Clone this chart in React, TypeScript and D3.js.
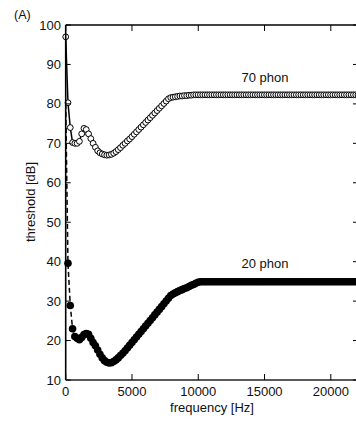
import React from "react";
import * as d3 from "d3";

const frequencies = [
  0, 172, 345, 517, 689, 861, 1034, 1206, 1378, 1550,
  1723, 1895, 2067, 2240, 2412, 2584, 2756, 2929, 3101, 3273,
  3445, 3618, 3790, 3962, 4134, 4307, 4479, 4651, 4823, 4996,
  5168, 5340, 5512, 5685, 5857, 6029, 6202, 6374, 6546, 6718,
  6891, 7063, 7235, 7407, 7580, 7752, 7924, 8097, 8269, 8441,
  8613, 8786, 8958, 9130, 9303, 9475, 9647, 9819, 9991, 10164,
  10336, 10508, 10680, 10853, 11025, 11197, 11369, 11542, 11714, 11886,
  12058, 12231, 12403, 12575, 12747, 12920, 13092, 13264, 13436, 13609,
  13781, 13953, 14125, 14298, 14470, 14642, 14814, 14987, 15159, 15331,
  15503, 15676, 15848, 16020, 16192, 16365, 16537, 16709, 16881, 17054,
  17226, 17398, 17571, 17743, 17915, 18087, 18260, 18432, 18604, 18776,
  18949, 19121, 19293, 19465, 19638, 19810, 19982, 20154, 20327, 20499,
  20671, 20843, 21016, 21188, 21360, 21533, 21705, 21877, 22050,
];

const phon70 = [
  97.0, 80.3, 74.0, 70.2, 70.0, 70.0, 70.5, 72.4, 73.8, 73.5,
  72.4, 71.2, 70.0, 69.0, 68.1, 67.6, 67.3, 67.1, 67.0, 67.05,
  67.2, 67.5, 67.9, 68.4, 68.9, 69.5, 70.0, 70.6, 71.1, 71.7,
  72.3, 72.9, 73.5, 74.1, 74.7, 75.3, 75.9, 76.5, 77.1, 77.7,
  78.3, 78.9, 79.5, 80.1, 80.7, 81.3, 81.6, 81.7, 81.8, 81.9,
  82.0, 82.0, 82.1, 82.1, 82.2, 82.2, 82.3, 82.3, 82.3, 82.3,
  82.3, 82.3, 82.3, 82.3, 82.3, 82.3, 82.3, 82.3, 82.3, 82.3,
  82.3, 82.3, 82.3, 82.3, 82.3, 82.3, 82.3, 82.3, 82.3, 82.3,
  82.3, 82.3, 82.3, 82.3, 82.3, 82.3, 82.3, 82.3, 82.3, 82.3,
  82.3, 82.3, 82.3, 82.3, 82.3, 82.3, 82.3, 82.3, 82.3, 82.3,
  82.3, 82.3, 82.3, 82.3, 82.3, 82.3, 82.3, 82.3, 82.3, 82.3,
  82.3, 82.3, 82.3, 82.3, 82.3, 82.3, 82.3, 82.3, 82.3, 82.3,
  82.3, 82.3, 82.3, 82.3, 82.3, 82.3, 82.3, 82.3, 82.3,
];

const phon20 = [
  80.0, 39.6, 28.9, 23.0, 21.0, 20.6, 20.2, 20.8, 21.5, 21.8,
  21.6, 20.6, 19.5, 18.7, 17.6, 16.5, 15.6, 14.9, 14.5, 14.3,
  14.4, 14.7, 15.1, 15.6, 16.2, 16.8, 17.4, 18.1, 18.8, 19.5,
  20.2, 20.9, 21.6, 22.3, 23.0, 23.7, 24.4, 25.1, 25.8, 26.5,
  27.2, 27.9, 28.6, 29.3, 30.0, 30.7, 31.4, 31.8, 32.1, 32.4,
  32.7, 32.9, 33.2, 33.4, 33.7, 34.0, 34.2, 34.5, 34.8, 34.9,
  34.9, 34.9, 34.9, 34.9, 34.9, 34.9, 34.9, 34.9, 34.9, 34.9,
  34.9, 34.9, 34.9, 34.9, 34.9, 34.9, 34.9, 34.9, 34.9, 34.9,
  34.9, 34.9, 34.9, 34.9, 34.9, 34.9, 34.9, 34.9, 34.9, 34.9,
  34.9, 34.9, 34.9, 34.9, 34.9, 34.9, 34.9, 34.9, 34.9, 34.9,
  34.9, 34.9, 34.9, 34.9, 34.9, 34.9, 34.9, 34.9, 34.9, 34.9,
  34.9, 34.9, 34.9, 34.9, 34.9, 34.9, 34.9, 34.9, 34.9, 34.9,
  34.9, 34.9, 34.9, 34.9, 34.9, 34.9, 34.9, 34.9, 34.9,
];

const xTicks = [0, 5000, 10000, 15000, 20000];
const yTicks = [10, 20, 30, 40, 50, 60, 70, 80, 90, 100];
const seriesLabels = ["70 phon", "20 phon"];
const panelLabel = "(A)";
const xTitle = "frequency [Hz]";
const yTitle = "threshold [dB]";

const W = 356;
const H = 421;
const FONT = "'Liberation Sans', Arial, sans-serif";

export default function App() {
  const x = d3.scaleLinear().domain([0, 22050]).range([65.7, 358]);
  const y = d3.scaleLinear().domain([10, 100]).range([380, 25]);

  const n = Math.min(frequencies.length, phon70.length, phon20.length);
  const d70 = d3.range(n).map((i) => [frequencies[i], phon70[i]] as [number, number]);
  const d20 = d3.range(n).map((i) => [frequencies[i], phon20[i]] as [number, number]);

  const line = d3
    .line<[number, number]>()
    .x((d) => x(d[0]))
    .y((d) => y(d[1]));

  const [x0, x1] = x.range();
  const [yb, yt] = y.range();
  const tick = 6;

  return (
    <svg
      width={W}
      height={H}
      style={{ position: "absolute", left: 0, top: 0, background: "#fff" }}
      fontFamily={FONT}
    >
      <rect x={0} y={0} width={W} height={H} fill="#fff" />

      {/* 20 phon: dashed line with filled markers */}
      <path d={line(d20) || ""} fill="none" stroke="#000" strokeWidth={1.5} strokeDasharray="5,3" />
      {d20.slice(1).map((d, i) => (
        <circle key={"b" + i} cx={x(d[0])} cy={y(d[1])} r={3.8} fill="#000" />
      ))}

      {/* 70 phon: solid line with open markers */}
      <path d={line(d70) || ""} fill="none" stroke="#000" strokeWidth={1.5} />
      {d70.map((d, i) => (
        <circle
          key={"w" + i}
          cx={x(d[0])}
          cy={y(d[1])}
          r={2.9}
          fill="#fff"
          stroke="#000"
          strokeWidth={1}
        />
      ))}

      {/* frame */}
      <line x1={x0} x2={x0} y1={yt} y2={yb} stroke="#000" strokeWidth={1.6} />
      <line x1={x0} x2={x1} y1={yt} y2={yt} stroke="#000" strokeWidth={1.3} />
      <line x1={x0} x2={x1} y1={yb} y2={yb} stroke="#222" strokeWidth={1.3} />
      <line x1={x1} x2={x1} y1={yt} y2={yb} stroke="#000" strokeWidth={1.3} />

      {/* x ticks */}
      {xTicks.map((t) => (
        <g key={"xt" + t}>
          <line x1={x(t)} x2={x(t)} y1={yb} y2={yb - tick} stroke="#000" strokeWidth={1} />
          <line x1={x(t)} x2={x(t)} y1={yt} y2={yt + tick} stroke="#000" strokeWidth={1} />
          <text x={x(t)} y={396} textAnchor="middle" fontSize={13} fill="#111">
            {String(t)}
          </text>
        </g>
      ))}

      {/* y ticks */}
      {yTicks.map((t) => (
        <g key={"yt" + t}>
          <line x1={x0} x2={x0 + 5} y1={y(t)} y2={y(t)} stroke="#000" strokeWidth={1} />
          <line x1={x1} x2={x1 - 5} y1={y(t)} y2={y(t)} stroke="#000" strokeWidth={1} />
          <text x={61} y={y(t) + 4.5} textAnchor="end" fontSize={13} fill="#111">
            {String(t)}
          </text>
        </g>
      ))}

      {/* labels */}
      <text x={14} y={19} fontSize={12.5} fill="#111">
        {panelLabel}
      </text>
      <text x={212} y={412} textAnchor="middle" fontSize={13} fill="#111">
        {xTitle}
      </text>
      <text
        transform={`translate(35,202) rotate(-90)`}
        textAnchor="middle"
        fontSize={13}
        fill="#111"
      >
        {yTitle}
      </text>
      <text x={265} y={82} textAnchor="middle" fontSize={13} fill="#111">
        {seriesLabels[0]}
      </text>
      <text x={265} y={268} textAnchor="middle" fontSize={13} fill="#111">
        {seriesLabels[1]}
      </text>
    </svg>
  );
}
